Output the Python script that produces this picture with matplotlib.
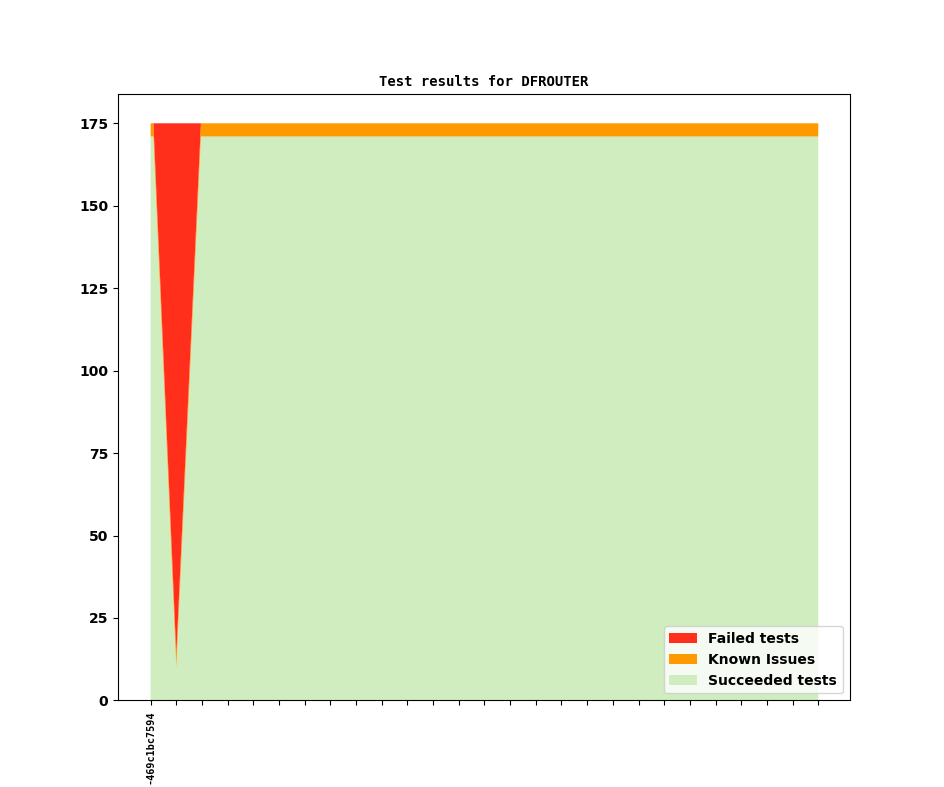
import matplotlib
matplotlib.use("Agg")
import matplotlib.pyplot as plt

plt.rcParams['font.weight'] = 'bold'
plt.rcParams['font.size'] = 10

# data positions (commit index); two extra points hug the dip
x_pos = [0, 0.11, 1, 1.96, 2, 3, 4, 5, 6, 7, 8, 9, 10, 11, 12, 13, 14, 15,
         16, 17, 18, 19, 20, 21, 22, 23, 24, 25, 26]
succeeded = [171, 171, 10, 171, 171, 171, 171, 171, 171, 171, 171, 171, 171, 171, 171,
             171, 171, 171, 171, 171, 171, 171, 171, 171, 171, 171, 171, 171, 171]
known = [4, 4, 4, 4, 4, 4, 4, 4, 4, 4, 4, 4, 4, 4, 4,
         4, 4, 4, 4, 4, 4, 4, 4, 4, 4, 4, 4, 4, 4]
failed = [0, 0, 161, 0, 0, 0, 0, 0, 0, 0, 0, 0, 0, 0, 0,
          0, 0, 0, 0, 0, 0, 0, 0, 0, 0, 0, 0, 0, 0]

tick_pos = [0, 1, 2, 3, 4, 5, 6, 7, 8, 9, 10, 11, 12, 13, 14, 15, 16, 17, 18,
            19, 20, 21, 22, 23, 24, 25, 26]
tick_labels = ["-469c1bc7594", "", "", "", "", "", "", "", "", "", "", "", "", "",
               "", "", "", "", "", "", "", "", "", "", "", "", ""]

series_names = ["Succeeded tests", "Known Issues", "Failed tests"]
colors = ["#cfedbf", "#ff9900", "#ff2f1c"]

fig = plt.figure(figsize=(9.44, 7.87), dpi=100)
ax = fig.add_subplot(111)
polys = ax.stackplot(x_pos, succeeded, known, failed, colors=colors, labels=series_names)

ax.set_xlim(-1.27, 27.22)
ax.set_xticks(tick_pos)
ax.set_xticklabels(tick_labels, rotation=90, fontsize=7.3, family='monospace', fontweight='bold')
ax.set_title("Test results for DFROUTER", family='monospace', fontweight='bold', fontsize=10)

handles, labels = ax.get_legend_handles_labels()
ax.legend(handles[::-1], labels[::-1], loc='lower right', prop={'weight': 'bold', 'size': 10})

fig.savefig("out.png", dpi=100)
